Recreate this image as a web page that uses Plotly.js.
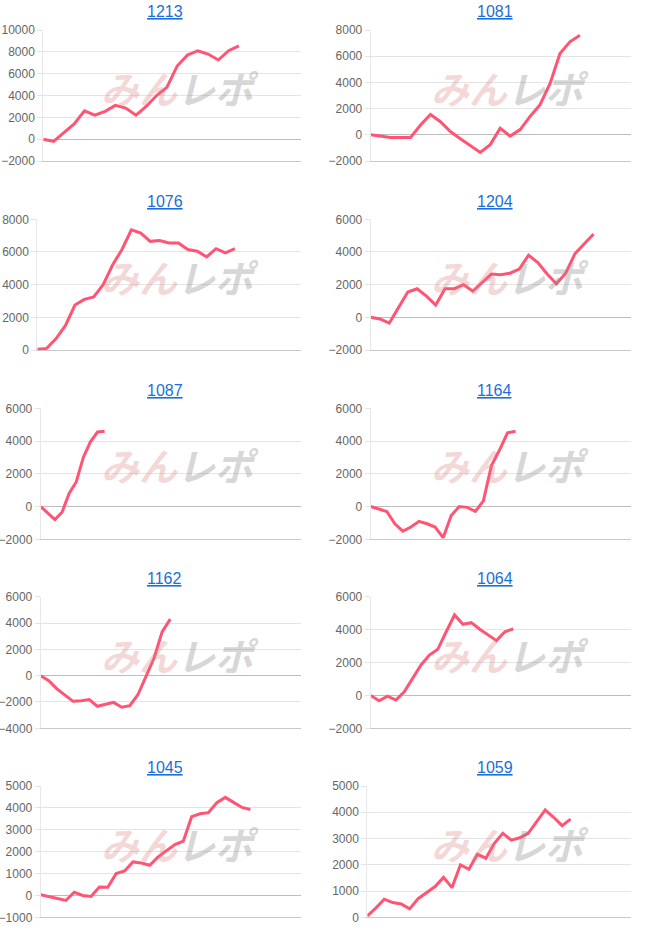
<!DOCTYPE html>
<html>
<head>
<meta charset="utf-8">
<script src="https://cdn.plot.ly/plotly-3.0.1.min.js"></script>
<style>html,body{margin:0;padding:0;background:#fff;}#chart{width:660px;height:945px;}</style>
</head>
<body>
<div id="chart"></div>
<script>
// ---- data ----
const TITLES = ['1213', '1081', '1076', '1204', '1087', '1164', '1162', '1064', '1045', '1059'];

const S1213 = [0, -200, 600, 1400, 2600, 2200, 2550, 3100, 2850, 2200, 3000, 4000, 4750, 6700, 7700, 8100, 7800, 7250, 8100, 8550];
const S1081 = [0, -100, -200, -200, -200, 750, 1550, 1000, 250, -300, -800, -1350, -750, 500, -100, 400, 1400, 2300, 3900, 6200, 7100, 7600];
const S1076 = [50, 100, 700, 1500, 2750, 3100, 3250, 4000, 5200, 6150, 7350, 7150, 6650, 6700, 6550, 6550, 6150, 6050, 5700, 6200, 5950, 6200];
const S1204 = [0, -100, -350, 600, 1550, 1750, 1300, 750, 1750, 1750, 2000, 1600, 2150, 2650, 2600, 2700, 2950, 3800, 3350, 2650, 2050, 2700, 3900, 4500, 5100];
const S1087 = [0, -400, -800, -350, 800, 1500, 3000, 3950, 4550, 4600];
const S1164 = [0, -150, -300, -1050, -1500, -1250, -900, -1050, -1250, -1900, -550, 0, -50, -300, 350, 2500, 3450, 4500, 4600];
const S1162 = [0, -380, -1000, -1500, -1950, -1900, -1820, -2330, -2200, -2030, -2400, -2280, -1450, 0, 1340, 3350, 4300];
const S1064 = [0, -330, -50, -280, 220, 1030, 1850, 2450, 2800, 3870, 4890, 4320, 4420, 4020, 3670, 3330, 3870, 4040];
const S1045 = [30, -50, -120, -230, 150, 0, -50, 380, 370, 1000, 1120, 1530, 1480, 1380, 1760, 2020, 2320, 2480, 3600, 3730, 3780, 4240, 4480, 4250, 4020, 3930];
const S1059 = [50, 350, 690, 560, 510, 320, 710, 930, 1170, 1520, 1130, 2000, 1830, 2400, 2250, 2820, 3200, 2940, 3030, 3200, 3670, 4090, 3810, 3490, 3740];

const SERIES = [S1213, S1081, S1076, S1204, S1087, S1164, S1162, S1064, S1045, S1059];

// ---- panel geometry (pixels) and axis settings ----
const W = 660, H = 945;
const PANELS = [
  {x0: 43.3,  x1: 300.7, y0: 30,    y1: 161,   yr: [-2000, 10000], dt: 2000, xr: 25},
  {x0: 370.7, x1: 630.7, y0: 30,    y1: 161,   yr: [-2000, 8000],  dt: 2000, xr: 26.1},
  {x0: 37.3,  x1: 300.7, y0: 219.3, y1: 350,   yr: [0, 8000],      dt: 2000, xr: 28},
  {x0: 370.7, x1: 630.7, y0: 219.3, y1: 350,   yr: [-2000, 6000],  dt: 2000, xr: 28},
  {x0: 40.7,  x1: 300.7, y0: 408.3, y1: 539.3, yr: [-2000, 6000],  dt: 2000, xr: 36.6},
  {x0: 370.7, x1: 630.7, y0: 408.3, y1: 539.3, yr: [-2000, 6000],  dt: 2000, xr: 32.3},
  {x0: 40.7,  x1: 300.7, y0: 596.7, y1: 728.3, yr: [-4000, 6000],  dt: 2000, xr: 32.1},
  {x0: 370.7, x1: 630.7, y0: 596.7, y1: 728.3, yr: [-2000, 6000],  dt: 2000, xr: 31},
  {x0: 40.7,  x1: 300.7, y0: 786,   y1: 917.3, yr: [-1000, 5000],  dt: 1000, xr: 31},
  {x0: 367.3, x1: 630.7, y0: 786,   y1: 917.3, yr: [0, 5000],      dt: 1000, xr: 31.1}
];
const TITLE_Y = [11.5, 201, 390, 578.5, 767.5];
const TITLE_X = [164.5, 494.5];
const MARK_Y = [87, 276, 464, 654, 843];
const MARK_X = [180, 510];

const LINE_COLOR = '#ff5473';
const TICK_FONT = {family: 'Liberation Sans, Arial, sans-serif', size: 12, color: '#666666'};

const traces = [];
const layout = {
  width: W, height: H,
  margin: {l: 0, r: 0, t: 0, b: 0},
  paper_bgcolor: '#ffffff', plot_bgcolor: '#ffffff',
  showlegend: false,
  annotations: []
};

SERIES.forEach((vals, i) => {
  const p = PANELS[i];
  const n = i + 1;
  const sfx = n === 1 ? '' : String(n);
  traces.push({
    type: 'scatter', mode: 'lines',
    x: vals.map((_, k) => k), y: vals,
    xaxis: 'x' + sfx, yaxis: 'y' + sfx,
    line: {color: LINE_COLOR, width: 3, shape: 'linear'},
    hoverinfo: 'skip'
  });
  layout['xaxis' + sfx] = {
    domain: [p.x0 / W, p.x1 / W],
    range: [0, p.xr],
    anchor: 'y' + sfx,
    showgrid: false, zeroline: false, showticklabels: false, ticks: '',
    showline: true, linecolor: '#c9c9c9', linewidth: 1,
    fixedrange: true
  };
  layout['yaxis' + sfx] = {
    domain: [1 - p.y1 / H, 1 - p.y0 / H],
    range: p.yr,
    dtick: p.dt, tick0: 0,
    anchor: 'x' + sfx,
    showgrid: true, gridcolor: '#e4e4e4', gridwidth: 1,
    zeroline: true, zerolinecolor: '#bdbdbd', zerolinewidth: 1,
    showline: true, linecolor: '#e8e8e8', linewidth: 1,
    ticks: 'outside', ticklen: 5, tickcolor: '#e4e4e4',
    tickfont: TICK_FONT,
    tickformat: 'd',
    fixedrange: true
  };
  const row = Math.floor(i / 2), col = i % 2;
  layout.annotations.push({
    xref: 'paper', yref: 'paper',
    x: TITLE_X[col] / W, y: 1 - TITLE_Y[row] / H,
    xanchor: 'center', yanchor: 'middle',
    text: '<u>' + TITLES[i] + '</u>',
    showarrow: false,
    font: {family: 'Liberation Sans, Arial, sans-serif', size: 16, color: '#1a6fd9'}
  });
  layout.annotations.push({
    xref: 'paper', yref: 'paper',
    x: MARK_X[col] / W, y: 1 - MARK_Y[row] / H,
    xanchor: 'center', yanchor: 'middle',
    text: '<b><i><span style="color:rgba(222,130,130,0.55)">みん</span><span style="color:rgba(140,140,140,0.6)">レポ</span></i></b>',
    showarrow: false,
    font: {family: 'Noto Sans CJK JP, sans-serif', size: 38, color: 'rgba(140,140,140,0.6)'}
  });
});

Plotly.newPlot('chart', traces, layout, {staticPlot: true, displayModeBar: false});
</script>
</body>
</html>
